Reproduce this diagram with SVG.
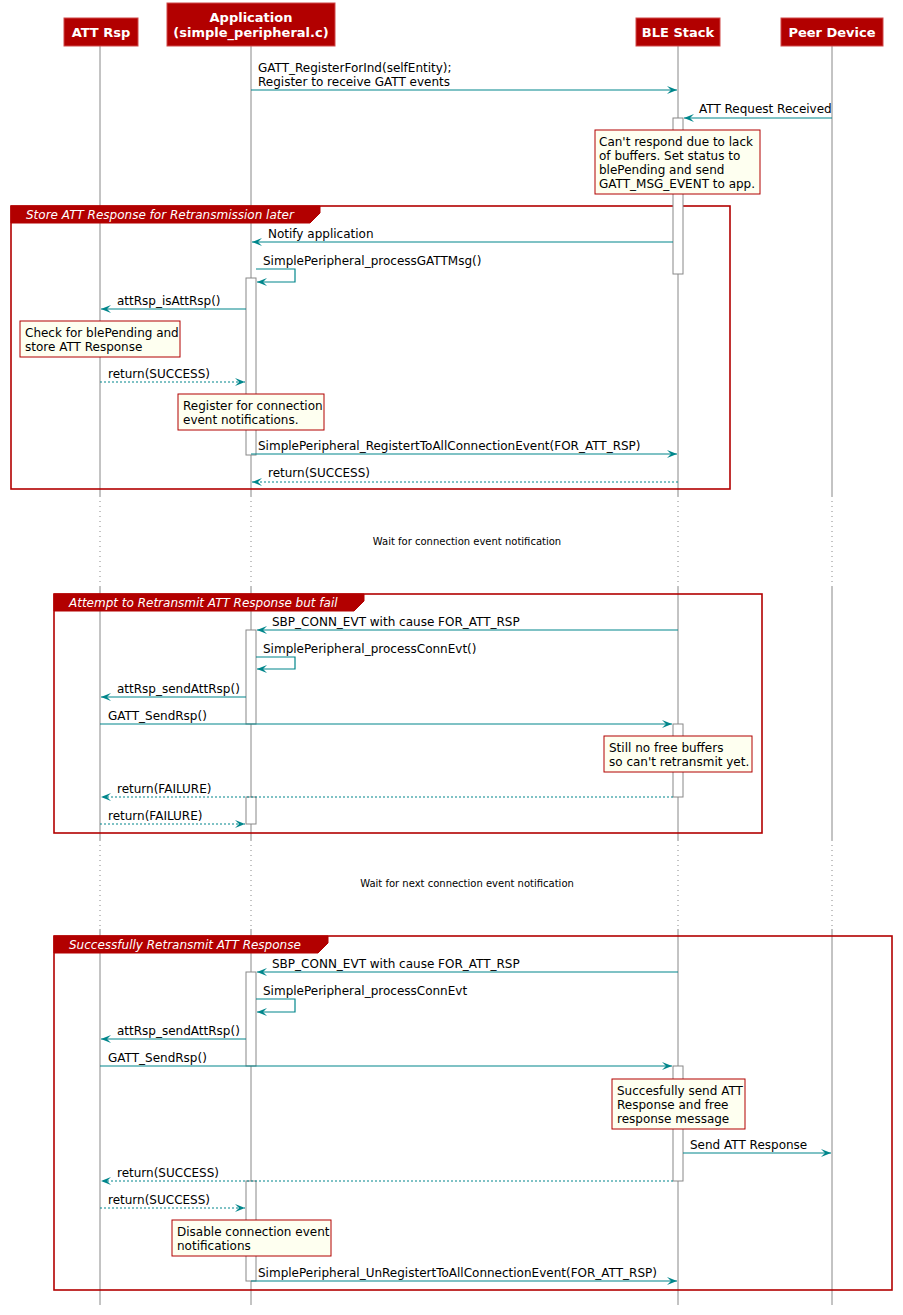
<svg xmlns="http://www.w3.org/2000/svg" width="903" height="1315" viewBox="0 0 903 1315">
<style>
.pbox{fill:#B20000;stroke:#D04848;stroke-width:1}
.ptxt{font-family:"DejaVu Sans",sans-serif;font-size:13px;font-weight:bold;fill:#fff;text-anchor:middle}
.life{stroke:#888;stroke-width:1;fill:none}
.dot{stroke:#888;stroke-width:1;stroke-dasharray:1,4;fill:none}
.act{fill:#fff;stroke:#888;stroke-width:1}
.msg{stroke:#00868B;stroke-width:1.2;fill:none;marker-end:url(#ah)}
.ret{stroke:#00868B;stroke-width:1.2;fill:none;stroke-dasharray:2,2;marker-end:url(#ah)}
.t{font-family:"DejaVu Sans",sans-serif;font-size:12px;fill:#000}
.note{fill:#FEFFF0;stroke:#B20000;stroke-width:1}
.grp{fill:none;stroke:#B20000;stroke-width:1.6}
.tab{fill:#B20000;stroke:#B20000;stroke-width:1}
.gt{font-family:"DejaVu Sans",sans-serif;font-size:12px;font-style:italic;fill:#fff}
.dl{font-family:"DejaVu Sans",sans-serif;font-size:10px;fill:#000;text-anchor:middle}
</style>
<defs>
<marker id="ah" markerUnits="userSpaceOnUse" markerWidth="11" markerHeight="10" viewBox="0 0 11 10" refX="10" refY="5" orient="auto">
<path d="M0,1 L10,5 L0,9 L4,5 Z" fill="#00868B"/>
</marker>
</defs>

<g id="lifelines">
<path class="life" d="M100,46 V496 M100,587 V840 M100,929 V1305"/>
<path class="dot" d="M100,496 V587 M100,840 V929"/>
<path class="life" d="M251,46 V496 M251,587 V840 M251,929 V1305"/>
<path class="dot" d="M251,496 V587 M251,840 V929"/>
<path class="life" d="M678,46 V496 M678,587 V840 M678,929 V1305"/>
<path class="dot" d="M678,496 V587 M678,840 V929"/>
<path class="life" d="M832,46 V496 M832,587 V840 M832,929 V1305"/>
<path class="dot" d="M832,496 V587 M832,840 V929"/>
</g>

<g id="p-attrsp"><rect class="pbox" x="64" y="18" width="74" height="28"/><text class="ptxt" x="101" y="37">ATT Rsp</text></g>
<g id="p-app"><rect class="pbox" x="167" y="3" width="168" height="43"/><text class="ptxt" x="251" y="22">Application</text><text class="ptxt" x="251" y="37">(simple_peripheral.c)</text></g>
<g id="p-ble"><rect class="pbox" x="636" y="18" width="84" height="28"/><text class="ptxt" x="678" y="37">BLE Stack</text></g>
<g id="p-peer"><rect class="pbox" x="781" y="18" width="102" height="28"/><text class="ptxt" x="832" y="37">Peer Device</text></g>

<g id="groups">
<g id="group1">
<rect class="grp" x="11" y="206" width="719" height="283"/>
<polygon class="tab" points="11,206 320,206 320,213 310,223 11,223"/>
<text class="gt" x="26" y="219">Store ATT Response for Retransmission later</text>
</g>
<g id="group2">
<rect class="grp" x="54" y="594" width="708" height="239"/>
<polygon class="tab" points="54,594 364,594 364,601 354,611 54,611"/>
<text class="gt" x="69" y="607">Attempt to Retransmit ATT Response but fail</text>
</g>
<g id="group3">
<rect class="grp" x="54" y="936" width="838" height="354"/>
<polygon class="tab" points="54,936 328,936 328,943 318,953 54,953"/>
<text class="gt" x="69" y="949">Successfully Retransmit ATT Response</text>
</g>
</g>

<g id="activations">
<rect class="act" x="673" y="118" width="10" height="156"/>
<rect class="act" x="246" y="278" width="10" height="177"/>
<rect class="act" x="246" y="630" width="10" height="94"/>
<rect class="act" x="673" y="724" width="10" height="73"/>
<rect class="act" x="246" y="797" width="10" height="27"/>
<rect class="act" x="246" y="972" width="10" height="94"/>
<rect class="act" x="673" y="1066" width="10" height="115"/>
<rect class="act" x="246" y="1181" width="10" height="100"/>
</g>

<g id="connectors">
<line class="msg" x1="251" y1="90" x2="677" y2="90"/>
<text class="t" x="258" y="72">GATT_RegisterForInd(selfEntity);</text>
<text class="t" x="258" y="86">Register to receive GATT events</text>

<line class="msg" x1="832" y1="118" x2="684" y2="118"/>
<text class="t" x="699" y="113">ATT Request Received</text>

<line class="msg" x1="673" y1="242" x2="252" y2="242"/>
<text class="t" x="268" y="238">Notify application</text>

<polyline class="msg" points="256,269 295,269 295,282 257,282"/>
<text class="t" x="263" y="265">SimplePeripheral_processGATTMsg()</text>

<line class="msg" x1="246" y1="309" x2="101" y2="309"/>
<text class="t" x="117" y="305">attRsp_isAttRsp()</text>

<line class="ret" x1="100" y1="382" x2="245" y2="382"/>
<text class="t" x="108" y="378">return(SUCCESS)</text>

<line class="msg" x1="251" y1="454" x2="677" y2="454"/>
<text class="t" x="258" y="450">SimplePeripheral_RegistertToAllConnectionEvent(FOR_ATT_RSP)</text>

<line class="ret" x1="678" y1="482" x2="252" y2="482"/>
<text class="t" x="268" y="477">return(SUCCESS)</text>

<line class="msg" x1="678" y1="630" x2="257" y2="630"/>
<text class="t" x="272" y="626">SBP_CONN_EVT with cause FOR_ATT_RSP</text>

<polyline class="msg" points="256,657 295,657 295,669 257,669"/>
<text class="t" x="263" y="653">SimplePeripheral_processConnEvt()</text>

<line class="msg" x1="246" y1="697" x2="101" y2="697"/>
<text class="t" x="117" y="693">attRsp_sendAttRsp()</text>

<line class="msg" x1="100" y1="724" x2="672" y2="724"/>
<text class="t" x="108" y="720">GATT_SendRsp()</text>

<line class="ret" x1="673" y1="797" x2="101" y2="797"/>
<text class="t" x="117" y="793">return(FAILURE)</text>

<line class="ret" x1="100" y1="824" x2="245" y2="824"/>
<text class="t" x="108" y="820">return(FAILURE)</text>

<line class="msg" x1="678" y1="972" x2="257" y2="972"/>
<text class="t" x="272" y="968">SBP_CONN_EVT with cause FOR_ATT_RSP</text>

<polyline class="msg" points="256,999 295,999 295,1012 257,1012"/>
<text class="t" x="263" y="995">SimplePeripheral_processConnEvt</text>

<line class="msg" x1="246" y1="1039" x2="101" y2="1039"/>
<text class="t" x="117" y="1035">attRsp_sendAttRsp()</text>

<line class="msg" x1="100" y1="1066" x2="672" y2="1066"/>
<text class="t" x="108" y="1062">GATT_SendRsp()</text>

<line class="msg" x1="683" y1="1153" x2="831" y2="1153"/>
<text class="t" x="690" y="1149">Send ATT Response</text>

<line class="ret" x1="673" y1="1181" x2="101" y2="1181"/>
<text class="t" x="117" y="1177">return(SUCCESS)</text>

<line class="ret" x1="100" y1="1208" x2="245" y2="1208"/>
<text class="t" x="108" y="1204">return(SUCCESS)</text>

<line class="msg" x1="251" y1="1281" x2="677" y2="1281"/>
<text class="t" x="258" y="1277">SimplePeripheral_UnRegistertToAllConnectionEvent(FOR_ATT_RSP)</text>
</g>

<g id="note1"><rect class="note" x="595" y="130" width="165" height="64"/>
<text class="t" x="599" y="146">Can't respond due to lack</text>
<text class="t" x="599" y="160">of buffers. Set status to</text>
<text class="t" x="599" y="174">blePending and send</text>
<text class="t" x="599" y="188">GATT_MSG_EVENT to app.</text></g>

<g id="note2"><rect class="note" x="20" y="321" width="160" height="36"/>
<text class="t" x="25" y="337">Check for blePending and</text>
<text class="t" x="25" y="351">store ATT Response</text></g>

<g id="note3"><rect class="note" x="178" y="394" width="146" height="36"/>
<text class="t" x="183" y="410">Register for connection</text>
<text class="t" x="183" y="424">event notifications.</text></g>

<g id="note4"><rect class="note" x="604" y="736" width="148" height="36"/>
<text class="t" x="609" y="752">Still no free buffers</text>
<text class="t" x="609" y="766">so can't retransmit yet.</text></g>

<g id="note5"><rect class="note" x="612" y="1079" width="133" height="50"/>
<text class="t" x="617" y="1095">Succesfully send ATT</text>
<text class="t" x="617" y="1109">Response and free</text>
<text class="t" x="617" y="1123">response message</text></g>

<g id="note6"><rect class="note" x="172" y="1220" width="159" height="36"/>
<text class="t" x="177" y="1236">Disable connection event</text>
<text class="t" x="177" y="1250">notifications</text></g>

<g id="delays">
<text class="dl" x="467" y="545">Wait for connection event notification</text>
<text class="dl" x="467" y="887">Wait for next connection event notification</text>
</g>
</svg>
